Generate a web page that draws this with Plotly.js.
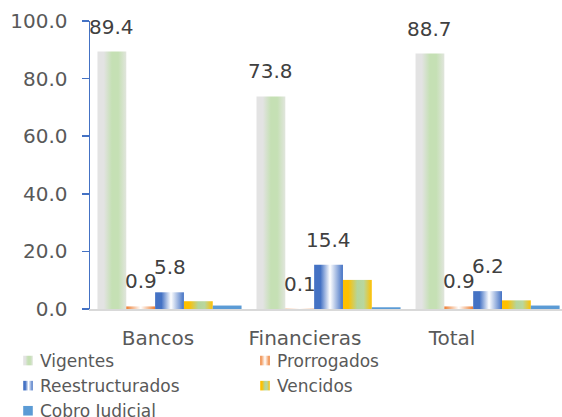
<!DOCTYPE html>
<html><head><meta charset="utf-8">
<script src="https://cdn.plot.ly/plotly-3.0.1.min.js"></script>
<style>html,body{margin:0;padding:0;background:#fff;} #chart{width:562px;height:417px;}</style>
</head><body><div id="chart"></div>
<script>
const categories = ['Bancos', 'Financieras', 'Total'];
const seriesNames = ['Vigentes', 'Prorrogados', 'Reestructurados', 'Vencidos', 'Cobro Judicial'];
const vigentes = [89.4, 73.8, 88.7];
const prorrogados = [0.9, 0.1, 0.9];
const reestructurados = [5.8, 15.4, 6.2];
const vencidos = [2.7, 10.1, 3.0];
const cobroJudicial = [1.2, 0.6, 1.2];
const yTickVals = [0, 20, 40, 60, 80, 100];
const labeledSeries = [true, true, true, false, false];

const seriesValues = [vigentes, prorrogados, reestructurados, vencidos, cobroJudicial];
const baseColors = ['#C9DFBA', '#F4B183', '#8FAADC', '#DCCB70', '#5B9BD5'];
const gradStops = [
  [[0, '#E3E3E3'], [0.22, '#E3E3E3'], [0.5, '#C5E0B4'], [0.72, '#C5E0B4'], [1, '#E1E5DD']],
  [[0, '#ED7D31'], [0.5, '#FFFFFF'], [1, '#ED7D31']],
  [[0, '#4472C4'], [0.22, '#4472C4'], [0.55, '#FFFFFF'], [1, '#4472C4']],
  [[0, '#FFC000'], [0.18, '#FFC000'], [0.5, '#B4D59C'], [0.72, '#B9D79E'], [1, '#FFC000']],
  null
];

const bargap = 0.094;
const nSeries = seriesNames.length;

const data = seriesNames.map((name, k) => ({
  type: 'bar',
  name: name,
  x: categories,
  y: seriesValues[k],
  marker: {color: baseColors[k], line: {width: 0}},
  hoverinfo: 'skip'
}));
// carrier for the category label axis (draws no marks)
data.push({
  type: 'scatter', mode: 'markers', x: categories.map((c, i) => i), y: categories.map(() => null),
  xaxis: 'x2', yaxis: 'y', showlegend: false, hoverinfo: 'skip', marker: {opacity: 0}
});

const annotations = [];
seriesValues.forEach((vals, k) => {
  if (!labeledSeries[k]) return;
  vals.forEach((v, i) => {
    annotations.push({
      x: i + (k - (nSeries - 1) / 2) * (1 - bargap) / nSeries,
      y: v,
      xref: 'x', yref: 'y',
      text: v.toFixed(1),
      showarrow: false,
      yshift: 25,
      yanchor: 'middle',
      xanchor: 'center',
      font: {family: 'DejaVu Sans, Verdana, sans-serif', size: 20, color: '#404040'}
    });
  });
});

const layout = {
  width: 562, height: 417,
  margin: {l: 90, r: 0, t: 21, b: 108, pad: 0},
  paper_bgcolor: '#FFFFFF', plot_bgcolor: '#FFFFFF',
  font: {family: 'DejaVu Sans, Verdana, sans-serif', color: '#595959', size: 20},
  barmode: 'group', bargap: bargap, bargroupgap: 0,
  showlegend: true,
  xaxis: {
    type: 'category', range: [-0.5, 2.468], showticklabels: false,
    showline: true, linecolor: '#D9D9D9', linewidth: 1.5,
    ticks: '', showgrid: false, zeroline: false
  },
  xaxis2: {
    overlaying: 'x', anchor: 'y', side: 'bottom', type: 'linear',
    range: [-0.4626, 2.748], tickmode: 'array', tickvals: [0, 1, 2], ticktext: categories,
    showline: false, showgrid: false, zeroline: false, ticks: '',
    ticklabelstandoff: 15, tickfont: {size: 20, color: '#595959'}
  },
  yaxis: {
    range: [0, 100], tickmode: 'array', tickvals: yTickVals, tickformat: '.1f',
    ticks: 'outside', ticklen: 7, tickwidth: 1.5, tickcolor: '#4472C4',
    showline: true, linecolor: '#4472C4', linewidth: 1.5,
    showgrid: false, zeroline: false, ticklabelstandoff: 10,
    tickfont: {size: 20, color: '#595959'}
  },
  legend: {
    orientation: 'h', xref: 'container', yref: 'container',
    x: 0, y: 1 - 343 / 417, xanchor: 'left', yanchor: 'top',
    entrywidth: 192, entrywidthmode: 'pixels',
    font: {size: 17, color: '#595959'}, bgcolor: 'rgba(0,0,0,0)', traceorder: 'normal'
  },
  annotations: annotations
};

Plotly.newPlot('chart', data, layout, {staticPlot: true, displayModeBar: false}).then(gd => {
  const NS = 'http://www.w3.org/2000/svg';
  const svg = gd.querySelector('svg.main-svg');
  let defs = svg.querySelector('defs');
  if (!defs) { defs = document.createElementNS(NS, 'defs'); svg.insertBefore(defs, svg.firstChild); }
  gradStops.forEach((stops, k) => {
    if (!stops) return;
    const lg = document.createElementNS(NS, 'linearGradient');
    lg.setAttribute('id', 'bargrad' + k);
    lg.setAttribute('x1', '0'); lg.setAttribute('y1', '0');
    lg.setAttribute('x2', '1'); lg.setAttribute('y2', '0');
    stops.forEach(s => {
      const st = document.createElementNS(NS, 'stop');
      st.setAttribute('offset', s[0]);
      st.setAttribute('stop-color', s[1]);
      lg.appendChild(st);
    });
    defs.appendChild(lg);
  });
  gd.querySelectorAll('.barlayer .trace').forEach((tr, k) => {
    if (!gradStops[k]) return;
    tr.querySelectorAll('path').forEach(p => { p.style.fill = 'url(#bargrad' + k + ')'; });
  });
  gd.querySelectorAll('.legend .traces').forEach((tr, k) => {
    tr.querySelectorAll('.legendpoints path').forEach(p => {
      p.setAttribute('transform', 'translate(28,0) scale(0.8)');
      if (gradStops[k]) p.style.fill = 'url(#bargrad' + k + ')';
    });
  });
});
</script>
</body></html>
